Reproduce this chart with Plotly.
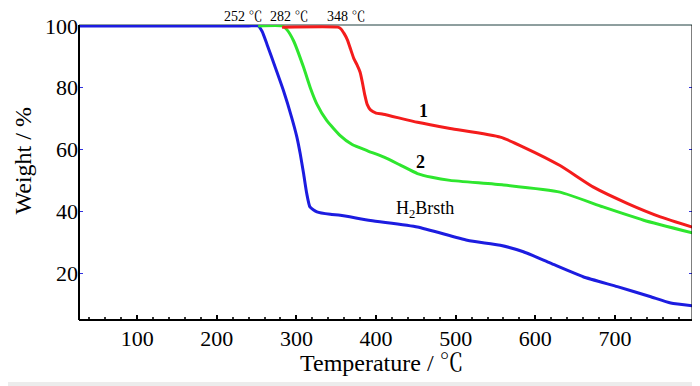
import plotly.graph_objects as go

# ---- data ----
blue_T = [27, 150, 240, 252, 257, 263, 273.4, 283.8, 294, 300.6, 304.8, 309, 313, 317, 325.8, 342.5, 355, 393, 452, 514.5, 556, 585, 619, 660, 703, 744, 770, 797]
blue_W = [100, 100, 100, 100, 98.2, 94.1, 86.6, 79, 70.4, 64, 58.6, 52.2, 45.7, 41.4, 39.8, 39, 38.7, 37, 34.9, 30.6, 29, 26.9, 23.2, 18.8, 15.6, 12.4, 10.3, 9.4]

green_T = [252, 282, 288, 296.4, 309, 317.3, 325.7, 338, 355, 370, 390, 410, 430, 452, 470, 493, 560, 631, 685, 736, 797]
green_W = [100, 100, 98.8, 95.2, 86.6, 80.1, 74.7, 69.4, 64.5, 61.6, 59.5, 57.5, 55, 52.2, 51, 50, 48.5, 46.2, 41.4, 37.1, 33]

red_T = [282, 352, 356, 360, 364, 368, 372, 376, 380, 383, 386, 389, 393, 400, 409, 452, 493, 556, 585, 631, 673, 716, 757, 797]
red_W = [99.6, 99.6, 99, 97.5, 95.5, 92.5, 89.5, 87.5, 85, 81.5, 77.5, 74.5, 72.8, 71.8, 71.4, 68.8, 66.8, 64, 60.8, 54.8, 47.8, 42.5, 38.2, 34.9]

x_ticks = [100, 200, 300, 400, 500, 600, 700]
y_ticks = [20, 40, 60, 80, 100]

onset_T = [234, 291, 363.5]
onset_text = ["252 ℃", "282 ℃", "348 ℃"]

FONT = "Liberation Serif, Noto Serif CJK SC, Noto Sans CJK SC, serif"

fig = go.Figure()
fig.add_trace(go.Scatter(x=blue_T, y=blue_W, mode="lines",
                         line=dict(color="#1c1ce0", width=3, shape="spline", smoothing=0.5)))
fig.add_trace(go.Scatter(x=green_T, y=green_W, mode="lines",
                         line=dict(color="#2ee62e", width=3, shape="spline", smoothing=0.5)))
fig.add_trace(go.Scatter(x=red_T, y=red_W, mode="lines",
                         line=dict(color="#f41c1c", width=3, shape="spline", smoothing=0.5)))

annotations = []
for t, s in zip(onset_T, onset_text):
    annotations.append(dict(x=t, y=1.028, xref="x", yref="paper", text=s, showarrow=False,
                            font=dict(family=FONT, size=14, color="black"),
                            xanchor="center", yanchor="middle"))
annotations.append(dict(x=459, y=72.6, text="<b>1</b>", showarrow=False,
                        font=dict(family=FONT, size=18, color="black")))
annotations.append(dict(x=455.5, y=55.8, text="<b>2</b>", showarrow=False,
                        font=dict(family=FONT, size=18, color="black")))
annotations.append(dict(x=462, y=40.6, text="H<sub>2</sub>Brsth", showarrow=False,
                        font=dict(family=FONT, size=18, color="black")))
# axis titles
annotations.append(dict(x=-0.0905, y=0.539, xref="paper", yref="paper", text="Weight / %",
                        textangle=-90, showarrow=False, xanchor="center", yanchor="middle",
                        font=dict(family=FONT, size=24, color="black")))
annotations.append(dict(x=0.4935, y=-0.146, xref="paper", yref="paper", text="Temperature / ℃",
                        showarrow=False, xanchor="center", yanchor="middle",
                        font=dict(family=FONT, size=24, color="black")))

shapes = [
    dict(type="line", xref="paper", yref="paper", x0=0, x1=0, y0=0, y1=1,
         line=dict(color="black", width=2)),
    dict(type="line", xref="paper", yref="paper", x0=0, x1=1, y0=0, y1=0,
         line=dict(color="black", width=2)),
    dict(type="line", xref="paper", yref="paper", x0=1, x1=1, y0=0, y1=1,
         line=dict(color="black", width=3)),
    dict(type="line", xref="paper", yref="paper", x0=0, x1=1, y0=1, y1=1,
         line=dict(color="#1f3f3f", width=1), layer="below"),
    dict(type="rect", xref="paper", yref="paper", x0=-0.2, x1=1.05, y0=-0.3, y1=-0.21,
         line=dict(width=0), fillcolor="#ececec"),
]

# the page body adds an 8px offset, so the figure is sized 692x378
fig.update_layout(
    width=692, height=378,
    margin=dict(l=71, r=7, t=17, b=66),
    paper_bgcolor="white", plot_bgcolor="white",
    showlegend=False,
    annotations=annotations,
    shapes=shapes,
    font=dict(family=FONT, color="black"),
)
fig.update_xaxes(
    range=[27, 798], tickvals=x_ticks, ticks="inside", ticklen=5, tickwidth=1.5,
    tickcolor="black", showgrid=False, zeroline=False, showline=False, automargin=False,
    ticklabelstandoff=3,
    tickfont=dict(family=FONT, size=22, color="black"),
    minor=dict(dtick=20, tick0=0, ticks="inside", ticklen=3, tickcolor="#333333", showgrid=False),
)
fig.update_yaxes(
    range=[4.8, 100.3], tickvals=y_ticks, ticks="inside", ticklen=4, tickwidth=1,
    tickcolor="#3030e0", mirror="ticks", showgrid=False, zeroline=False, showline=False,
    automargin=False,
    tickfont=dict(family=FONT, size=22, color="black"),
)

fig.write_html("out.html")
